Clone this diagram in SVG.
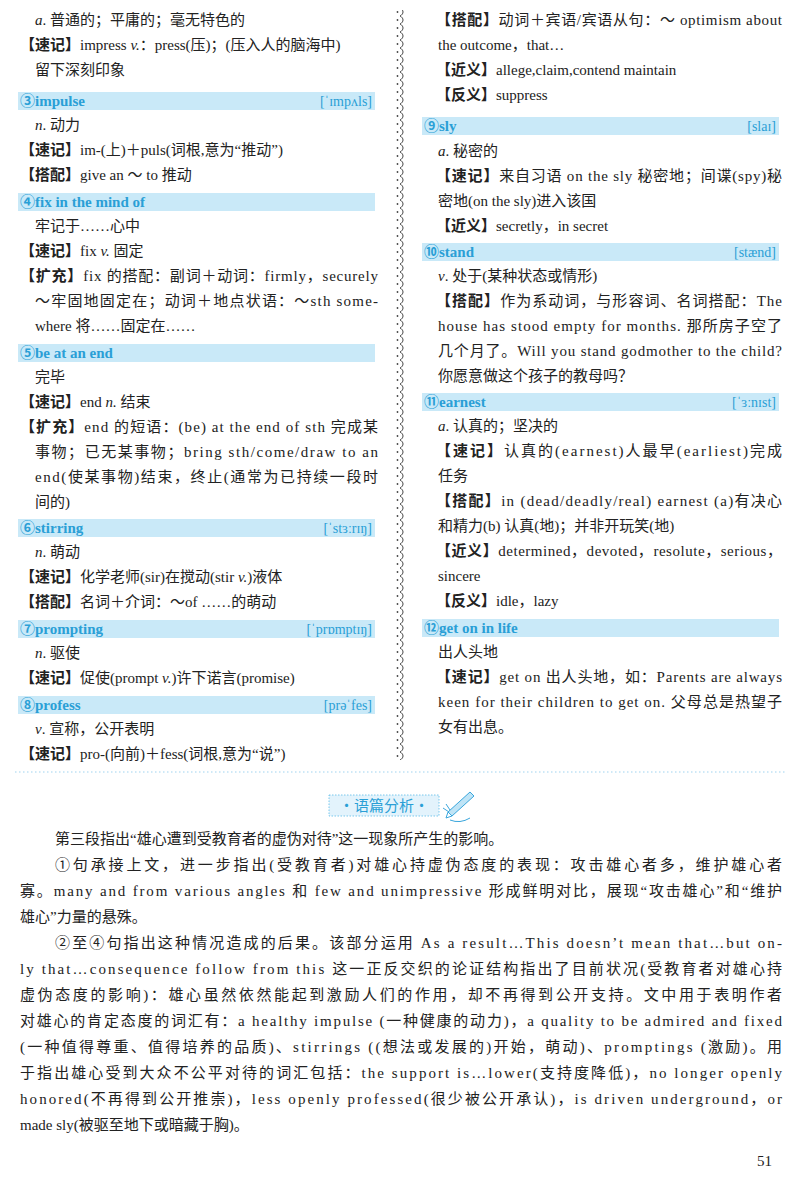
<svg xmlns="http://www.w3.org/2000/svg" width="800" height="1185" viewBox="0 0 800 1185">
<style>
text{font-family:"Liberation Serif","Noto Sans CJK SC",serif;font-size:15px;fill:#222}
.b{font-weight:bold;font-family:"Noto Sans CJK SC",sans-serif}
.i{font-style:italic}
.h{fill:#2a9fd6;font-weight:bold;font-size:15px}
.ph{fill:#2a9fd6;font-size:14px}
.bar{fill:#c9e9f8}
</style>
<defs>
<pattern id="wv" x="395" y="0" width="10" height="8" patternUnits="userSpaceOnUse">
<path d="M5 0 C9 2 9 6 5 8" fill="none" stroke="#444" stroke-width="1"/>
<circle cx="2.5" cy="4" r="0.9" fill="#444"/>
</pattern>
</defs>
<rect x="395" y="10" width="10" height="750" fill="url(#wv)"/>
<line x1="15" y1="772" x2="785" y2="772" stroke="#9fd3ef" stroke-dasharray="1.5,2.5"/>

<g id="left">
<text x="35" y="25"><tspan class="i">a</tspan>. 普通的；平庸的；毫无特色的</text>
<text x="20" y="50"><tspan class="b">【速记】</tspan>impress <tspan class="i">v.</tspan>：press(压)；(压入人的脑海中)</text>
<text x="35" y="75">留下深刻印象</text>
<g id="n3"><rect class="bar" x="18" y="92" width="357" height="18"/><text class="h" x="20" y="106">③impulse</text><text class="ph" x="372" y="106" text-anchor="end">[ˈɪmpʌls]</text></g>
<text x="35" y="130"><tspan class="i">n</tspan>. 动力</text>
<text x="20" y="155"><tspan class="b">【速记】</tspan>im-(上)＋puls(词根,意为“推动”)</text>
<text x="20" y="180"><tspan class="b">【搭配】</tspan>give an ～ to 推动</text>
<g id="n4"><rect class="bar" x="18" y="193" width="357" height="18"/><text class="h" x="20" y="207">④fix in the mind of</text></g>
<text x="35" y="231">牢记于……心中</text>
<text x="20" y="256"><tspan class="b">【速记】</tspan>fix <tspan class="i">v.</tspan> 固定</text>
<text x="20" y="281" textLength="358" lengthAdjust="spacing"><tspan class="b">【扩充】</tspan>fix 的搭配：副词＋动词：firmly，securely</text>
<text x="35" y="306" textLength="343" lengthAdjust="spacing">～牢固地固定在；动词＋地点状语：～sth some-</text>
<text x="35" y="331">where 将……固定在……</text>
<g id="n5"><rect class="bar" x="18" y="344" width="357" height="18"/><text class="h" x="20" y="358">⑤be at an end</text></g>
<text x="35" y="382">完毕</text>
<text x="20" y="407"><tspan class="b">【速记】</tspan>end <tspan class="i">n.</tspan> 结束</text>
<text x="20" y="432" textLength="358" lengthAdjust="spacing"><tspan class="b">【扩充】</tspan>end 的短语：(be) at the end of sth 完成某</text>
<text x="35" y="457" textLength="343" lengthAdjust="spacing">事物；已无某事物；bring sth/come/draw to an</text>
<text x="35" y="482" textLength="343" lengthAdjust="spacing">end(使某事物)结束，终止(通常为已持续一段时</text>
<text x="35" y="507">间的)</text>
<g id="n6"><rect class="bar" x="18" y="519" width="357" height="18"/><text class="h" x="20" y="533">⑥stirring</text><text class="ph" x="372" y="533" text-anchor="end">[ˈstɜːrɪŋ]</text></g>
<text x="35" y="557"><tspan class="i">n</tspan>. 萌动</text>
<text x="20" y="582"><tspan class="b">【速记】</tspan>化学老师(sir)在搅动(stir <tspan class="i">v.</tspan>)液体</text>
<text x="20" y="607"><tspan class="b">【搭配】</tspan>名词＋介词：～of ……的萌动</text>
<g id="n7"><rect class="bar" x="18" y="620" width="357" height="18"/><text class="h" x="20" y="634">⑦prompting</text><text class="ph" x="372" y="634" text-anchor="end">[ˈprɒmptɪŋ]</text></g>
<text x="35" y="658"><tspan class="i">n</tspan>. 驱使</text>
<text x="20" y="683"><tspan class="b">【速记】</tspan>促使(prompt <tspan class="i">v.</tspan>)许下诺言(promise)</text>
<g id="n8"><rect class="bar" x="18" y="696" width="357" height="18"/><text class="h" x="20" y="710">⑧profess</text><text class="ph" x="372" y="710" text-anchor="end">[prəˈfes]</text></g>
<text x="35" y="734"><tspan class="i">v</tspan>. 宣称，公开表明</text>
<text x="20" y="759"><tspan class="b">【速记】</tspan>pro-(向前)＋fess(词根,意为“说”)</text>
</g>

<g id="right">
<text x="436" y="25" textLength="346" lengthAdjust="spacing"><tspan class="b">【搭配】</tspan>动词＋宾语/宾语从句：～ optimism about</text>
<text x="438" y="50">the outcome，that…</text>
<text x="436" y="75"><tspan class="b">【近义】</tspan>allege,claim,contend maintain</text>
<text x="436" y="100"><tspan class="b">【反义】</tspan>suppress</text>
<g id="n9"><rect class="bar" x="422" y="117" width="357" height="18"/><text class="h" x="424" y="131">⑨sly</text><text class="ph" x="776" y="131" text-anchor="end">[slaɪ]</text></g>
<text x="438" y="156"><tspan class="i">a</tspan>. 秘密的</text>
<text x="436" y="181" textLength="346" lengthAdjust="spacing"><tspan class="b">【速记】</tspan>来自习语 on the sly 秘密地；间谍(spy)秘</text>
<text x="438" y="206">密地(on the sly)进入该国</text>
<text x="436" y="231"><tspan class="b">【近义】</tspan>secretly，in secret</text>
<g id="n10"><rect class="bar" x="422" y="243" width="357" height="18"/><text class="h" x="424" y="257">⑩stand</text><text class="ph" x="776" y="257" text-anchor="end">[stænd]</text></g>
<text x="438" y="281"><tspan class="i">v</tspan>. 处于(某种状态或情形)</text>
<text x="436" y="306" textLength="346" lengthAdjust="spacing"><tspan class="b">【搭配】</tspan>作为系动词，与形容词、名词搭配：The</text>
<text x="438" y="331" textLength="344" lengthAdjust="spacing">house has stood empty for months. 那所房子空了</text>
<text x="438" y="356" textLength="344" lengthAdjust="spacing">几个月了。Will you stand godmother to the child?</text>
<text x="438" y="381">你愿意做这个孩子的教母吗？</text>
<g id="n11"><rect class="bar" x="422" y="393" width="357" height="18"/><text class="h" x="424" y="407">⑪earnest</text><text class="ph" x="776" y="407" text-anchor="end">[ˈɜːnɪst]</text></g>
<text x="438" y="431"><tspan class="i">a</tspan>. 认真的；坚决的</text>
<text x="436" y="456" textLength="346" lengthAdjust="spacing"><tspan class="b">【速记】</tspan>认真的(earnest)人最早(earliest)完成</text>
<text x="438" y="481">任务</text>
<text x="436" y="506" textLength="346" lengthAdjust="spacing"><tspan class="b">【搭配】</tspan>in (dead/deadly/real) earnest (a)有决心</text>
<text x="438" y="531">和精力(b) 认真(地)；并非开玩笑(地)</text>
<text x="436" y="556" textLength="346" lengthAdjust="spacing"><tspan class="b">【近义】</tspan>determined，devoted，resolute，serious，</text>
<text x="438" y="581">sincere</text>
<text x="436" y="606"><tspan class="b">【反义】</tspan>idle，lazy</text>
<g id="n12"><rect class="bar" x="422" y="619" width="357" height="18"/><text class="h" x="424" y="633">⑫get on in life</text></g>
<text x="438" y="657">出人头地</text>
<text x="436" y="682" textLength="346" lengthAdjust="spacing"><tspan class="b">【速记】</tspan>get on 出人头地，如：Parents are always</text>
<text x="438" y="707" textLength="344" lengthAdjust="spacing">keen for their children to get on. 父母总是热望子</text>
<text x="438" y="732">女有出息。</text>
</g>

<g id="analysis">
<rect x="329" y="795" width="110" height="21" fill="#e3f3fc" stroke="#5bbbe8" stroke-width="0.8" stroke-dasharray="1.5,1.5"/>
<text x="384" y="811" text-anchor="middle" style="fill:#2a9fd6;font-family:'Noto Sans CJK SC',sans-serif;font-size:15px">・语篇分析・</text>
<g id="pencil" stroke="#3aa6dc" fill="none">
<path d="M448 812 L470 792 L474 796 L452 816 Z" fill="#bfe4f6"/>
<path d="M448 812 L446 818 L452 816"/>
<path d="M443 808 L449 812 M446 804 L450 810 M450 820 Q460 824 470 818"/>
</g>
<text x="55" y="844">第三段指出“雄心遭到受教育者的虚伪对待”这一现象所产生的影响。</text>
<text x="55" y="870" textLength="727" lengthAdjust="spacing">①句承接上文，进一步指出(受教育者)对雄心持虚伪态度的表现：攻击雄心者多，维护雄心者</text>
<text x="20" y="896" textLength="762" lengthAdjust="spacing">寡。many and from various angles 和 few and unimpressive 形成鲜明对比，展现“攻击雄心”和“维护</text>
<text x="20" y="922">雄心”力量的悬殊。</text>
<text x="55" y="948" textLength="727" lengthAdjust="spacing">②至④句指出这种情况造成的后果。该部分运用 As a result…This doesn’t mean that…but on-</text>
<text x="20" y="974" textLength="762" lengthAdjust="spacing">ly that…consequence follow from this 这一正反交织的论证结构指出了目前状况(受教育者对雄心持</text>
<text x="20" y="1000" textLength="762" lengthAdjust="spacing">虚伪态度的影响)：雄心虽然依然能起到激励人们的作用，却不再得到公开支持。文中用于表明作者</text>
<text x="20" y="1026" textLength="762" lengthAdjust="spacing">对雄心的肯定态度的词汇有：a healthy impulse (一种健康的动力)，a quality to be admired and fixed</text>
<text x="20" y="1052" textLength="762" lengthAdjust="spacing">(一种值得尊重、值得培养的品质)、stirrings ((想法或发展的)开始，萌动)、promptings (激励)。用</text>
<text x="20" y="1078" textLength="762" lengthAdjust="spacing">于指出雄心受到大众不公平对待的词汇包括：the support is…lower(支持度降低)，no longer openly</text>
<text x="20" y="1104" textLength="762" lengthAdjust="spacing">honored(不再得到公开推崇)，less openly professed(很少被公开承认)，is driven underground，or</text>
<text x="20" y="1130">made sly(被驱至地下或暗藏于胸)。</text>
</g>
<text x="757" y="1166" style="font-size:15px">51</text>
</svg>
